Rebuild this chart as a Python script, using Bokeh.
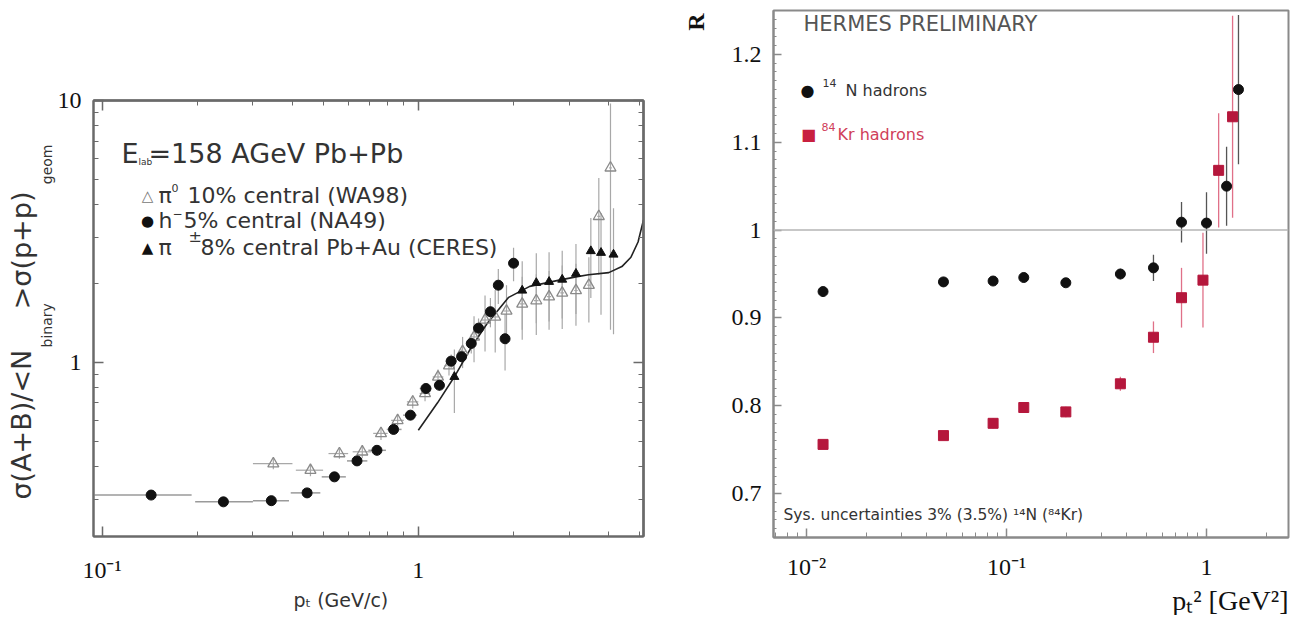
import math
from bokeh.plotting import figure
from bokeh.models import LogAxis, FixedTicker, Label, Span, ColumnDataSource, Title
from bokeh.layouts import row, column
from bokeh.embed import file_html
from bokeh.resources import INLINE

# ---------------- left panel data ----------------
na49_pt = [0.143, 0.242, 0.343, 0.445, 0.543, 0.640, 0.740, 0.835, 0.944, 1.057, 1.166,
           1.27, 1.37, 1.47, 1.55, 1.69, 1.79, 1.88, 2.00]
na49_ratio = [0.311, 0.293, 0.296, 0.317, 0.365, 0.420, 0.461, 0.554, 0.628, 0.794, 0.817,
              1.01, 1.05, 1.18, 1.35, 1.56, 1.97, 1.23, 2.39]
na49_err = [0.01, 0.01, 0.01, 0.01, 0.012, 0.015, 0.015, 0.02, 0.02, 0.03, 0.04,
            0.06, 0.07, 0.10, 0.12, 0.20, 0.30, 0.30, 0.35]
na49_pt_lo = [0.094, 0.197, 0.300, 0.395, 0.495, 0.595, 0.695, 0.795, 0.895, 1.01, 1.12,
              1.22, 1.32, 1.42, 1.50, 1.64, 1.74, 1.83, 1.95]
na49_pt_hi = [0.192, 0.300, 0.390, 0.490, 0.590, 0.690, 0.790, 0.885, 0.990, 1.10, 1.21,
              1.32, 1.42, 1.52, 1.60, 1.74, 1.84, 1.93, 2.05]

wa98_pt = [0.348, 0.456, 0.563, 0.665, 0.762, 0.86, 0.96, 1.05, 1.154, 1.25, 1.38, 1.50,
           1.625, 1.75, 1.90, 2.13, 2.36, 2.59, 2.85, 3.15, 3.46, 3.72, 4.05]
wa98_ratio = [0.410, 0.387, 0.448, 0.455, 0.535, 0.60, 0.706, 0.76, 0.879, 0.97, 1.10, 1.25,
              1.45, 1.49, 1.57, 1.67, 1.72, 1.78, 1.84, 1.88, 1.97, 3.61, 5.53]
wa98_err = [0.02, 0.02, 0.02, 0.025, 0.03, 0.035, 0.04, 0.05, 0.06, 0.08, 0.15, 0.25,
            0.35, 0.40, 0.40, 0.45, 0.45, 0.45, 0.50, 0.50, 0.55, 1.45, 4.2]
wa98_pt_lo = [0.30, 0.41, 0.52, 0.62, 0.72, 0.82, 0.92, 1.01, 1.11, 1.21, 1.34, 1.46,
              1.58, 1.71, 1.86, 2.09, 2.32, 2.55, 2.81, 3.11, 3.42, 3.68, 4.01]
wa98_pt_hi = [0.40, 0.50, 0.60, 0.71, 0.80, 0.90, 1.00, 1.09, 1.20, 1.29, 1.42, 1.54,
              1.67, 1.79, 1.94, 2.17, 2.40, 2.63, 2.89, 3.19, 3.50, 3.76, 4.09]

ceres_pt = [1.30, 2.13, 2.36, 2.59, 2.85, 3.15, 3.51, 3.78, 4.14]
ceres_ratio = [0.88, 1.88, 2.01, 2.03, 2.07, 2.18, 2.66, 2.62, 2.58]
ceres_err = [0.24, 0.55, 0.60, 0.60, 0.60, 0.65, 0.90, 1.10, 1.30]

curve_pt = [1.0, 1.15, 1.30, 1.47, 1.66, 1.93, 2.25, 2.79, 3.15, 3.45, 4.0, 4.4, 4.7, 4.95, 5.15]
curve_ratio = [0.55, 0.70, 0.88, 1.14, 1.42, 1.77, 1.95, 2.06, 2.12, 2.16, 2.20, 2.32, 2.52, 2.88, 3.5]

left_xticks = [0.1, 1.0]
left_xlabels = ["10⁻¹", "1"]
left_yticks = [1.0, 10.0]
left_ylabels = ["1", "10"]

# ---------------- right panel data ----------------
n_pt2 = [0.0121, 0.0484, 0.0857, 0.122, 0.198, 0.371, 0.543, 0.75, 1.0, 1.26, 1.445]
n_R = [0.930, 0.941, 0.942, 0.946, 0.940, 0.950, 0.957, 1.009, 1.008, 1.050, 1.160]
n_err = [0.004, 0.004, 0.004, 0.004, 0.004, 0.006, 0.015, 0.023, 0.035, 0.045, 0.085]

kr_pt2 = [0.0121, 0.0484, 0.0857, 0.122, 0.198, 0.371, 0.543, 0.75, 0.96, 1.15, 1.35]
kr_R = [0.756, 0.766, 0.780, 0.798, 0.793, 0.825, 0.878, 0.923, 0.943, 1.068, 1.129]
kr_err = [0.004, 0.004, 0.006, 0.006, 0.006, 0.008, 0.018, 0.034, 0.054, 0.065, 0.115]

right_xticks = [0.01, 0.1, 1.0]
right_xlabels = ["10⁻²", "10⁻¹", "1"]
right_yticks = [0.7, 0.8, 0.9, 1.0, 1.1, 1.2]
right_ylabels = ["0.7", "0.8", "0.9", "1", "1.1", "1.2"]

SANS = "DejaVu Sans"
SERIF = "Liberation Serif"
AX = "#6a6a6a"
EM = "\u2003"
EN = "\u2002"


def log_minors(lo, hi):
    out = []
    for e in range(-4, 2):
        for k in range(2, 10):
            v = k * 10.0 ** e
            if lo < v < hi:
                out.append(v)
    return out


def base_axis(ax, color=AX):
    ax.axis_line_color = color
    ax.axis_line_width = 2
    ax.major_tick_line_color = color
    ax.minor_tick_line_color = color
    ax.major_tick_line_width = 1.5
    ax.major_tick_out = 0
    ax.minor_tick_out = 0


def style_axis(ax, ticks, labels, minors, size, standoff, tick_in=10, minor_in=5, color=AX):
    ax.ticker = FixedTicker(ticks=ticks, minor_ticks=minors)
    ax.major_label_overrides = dict(zip(ticks, labels))
    base_axis(ax, color)
    ax.major_tick_in = tick_in
    ax.minor_tick_in = minor_in
    ax.major_label_text_font = SERIF
    ax.major_label_text_color = "#111"
    ax.major_label_text_font_size = f"{size}px"
    ax.major_label_standoff = standoff


def mirror_axes(p, side, majors, minors, tick_in=10, minor_in=5):
    # label-free mirrored tick marks (ticks only, no text)
    for pos, length in ((majors, tick_in), (minors, minor_in)):
        ax = LogAxis(ticker=FixedTicker(ticks=[], minor_ticks=pos))
        base_axis(ax)
        ax.minor_tick_in = length
        ax.minor_tick_line_width = 1.5 if length == tick_in else 1
        ax.major_label_standoff = 0
        p.add_layout(ax, side)


def lab(p, x, y, text, size, color="#333", font=SANS, align="left", baseline="middle",
        angle=0.0, style="normal"):
    p.add_layout(Label(x=x, y=y, x_units="screen", y_units="screen", text=text,
                       text_font=font, text_font_size=f"{size}px", text_color=color,
                       text_align=align, text_baseline=baseline, angle=angle,
                       text_font_style=style))


def title(p, side, text, size, align, offset, standoff, color="#333", font=SANS, style="normal"):
    p.add_layout(Title(text=text, align=align, offset=offset, standoff=standoff,
                       text_font=font, text_font_size=f"{size}px", text_color=color,
                       text_font_style=style), side)


# ================= LEFT FIGURE =================
p1 = figure(width=660, height=615, x_axis_type="log", y_axis_type="log",
            x_range=(0.094, 5.15), y_range=(0.216, 10.0),
            output_backend="svg", toolbar_location=None,
            min_border_left=93, min_border_right=17, min_border_top=100, min_border_bottom=79)
p1.xgrid.visible = False
p1.ygrid.visible = False
p1.outline_line_color = AX
p1.outline_line_width = 2

lx_minor = log_minors(0.094, 5.15)
ly_minor = log_minors(0.216, 10.0)
style_axis(p1.xaxis[0], left_xticks, left_xlabels, lx_minor, 24, 20)
style_axis(p1.yaxis[0], left_yticks, left_ylabels, ly_minor, 24, 12)
mirror_axes(p1, "above", left_xticks, lx_minor)
mirror_axes(p1, "right", left_yticks, ly_minor)

na = ColumnDataSource(dict(x=na49_pt, y=na49_ratio,
                           lo=[v - e for v, e in zip(na49_ratio, na49_err)],
                           hi=[v + e for v, e in zip(na49_ratio, na49_err)],
                           xl=na49_pt_lo, xh=na49_pt_hi))
wa = ColumnDataSource(dict(x=wa98_pt, y=wa98_ratio,
                           lo=[max(v - e, 0.22) for v, e in zip(wa98_ratio, wa98_err)],
                           hi=[v + e for v, e in zip(wa98_ratio, wa98_err)],
                           xl=wa98_pt_lo, xh=wa98_pt_hi))
ce = ColumnDataSource(dict(x=ceres_pt, y=ceres_ratio,
                           lo=[v - e for v, e in zip(ceres_ratio, ceres_err)],
                           hi=[v + e for v, e in zip(ceres_ratio, ceres_err)]))

BAR = "#a8a8a8"
p1.segment(x0="x", y0="lo", x1="x", y1="hi", source=wa, line_color=BAR, line_width=1.2)
p1.segment(x0="xl", y0="y", x1="xh", y1="y", source=wa, line_color=BAR, line_width=1.2)
p1.segment(x0="x", y0="lo", x1="x", y1="hi", source=ce, line_color=BAR, line_width=1.2)
p1.segment(x0="x", y0="lo", x1="x", y1="hi", source=na, line_color=BAR, line_width=1.2)
p1.segment(x0="xl", y0="y", x1="xh", y1="y", source=na, line_color="#9a9a9a", line_width=1.5)

p1.line(curve_pt, curve_ratio, line_color="#222", line_width=1.6)

p1.scatter("x", "y", source=wa, marker="triangle", size=11, fill_color=None,
           line_color="#8a8a8a", line_width=1.3)
p1.scatter("x", "y", source=na, marker="circle", size=10, fill_color="#111", line_color="#111")
p1.scatter("x", "y", source=ce, marker="triangle", size=9, fill_color="#111", line_color="#111")

# legend text inside the frame (frame-relative screen units)
lab(p1, 28, 383, "E", 27)
lab(p1, 45, 375, "lab", 9)
lab(p1, 55, 383, "=158 AGeV Pb+Pb", 27)

lab(p1, 54, 341, "△", 15, color="#777", align="center")
lab(p1, 65, 341, "π", 22)
lab(p1, 78, 349, "0", 11)
lab(p1, 94, 341, "10% central (WA98)", 22)

lab(p1, 54, 316, "●", 15, color="#111", align="center")
lab(p1, 65, 316, "h", 22)
lab(p1, 79, 323, "−", 12)
lab(p1, 90, 316, "5% central (NA49)", 22)

lab(p1, 54, 289, "▲", 15, color="#111", align="center")
lab(p1, 65, 289, "π", 22)
lab(p1, 95, 300, "±", 16)
lab(p1, 107, 289, "8% central Pb+Au (CERES)", 22)

# axis titles (as Title objects in the side panels)
title(p1, "below", "pₜ (GeV/c)", 19, "left", 200, 2)
title(p1, "left", "binary" + EM * 8 + EN + "geom", 14, "left", 189, 0)
title(p1, "left", "σ(A+B)/<N" + EM + EN + ">σ(p+p)", 27, "left", 37, 0)

# ================= RIGHT FIGURE =================
p2 = figure(width=646, height=615, x_axis_type="log",
            x_range=(0.00684, 2.57), y_range=(0.65, 1.25),
            output_backend="svg", toolbar_location=None,
            min_border_left=113, min_border_right=18, min_border_top=10, min_border_bottom=76)
p2.xgrid.visible = False
p2.ygrid.visible = False
p2.outline_line_color = "#8a8a8a"
p2.outline_line_width = 2

rx_minor = log_minors(0.00684, 2.57)
ry_minor = [round(0.66 + 0.01 * i, 2) for i in range(60) if round(0.66 + 0.01 * i, 2) < 1.25]
style_axis(p2.xaxis[0], right_xticks, right_xlabels, rx_minor, 24, 16, tick_in=9, minor_in=5,
           color="#8a8a8a")
style_axis(p2.yaxis[0], right_yticks, right_ylabels, ry_minor, 24, 12, tick_in=8, minor_in=3,
           color="#8a8a8a")

p2.add_layout(Span(location=1.0, dimension="width", line_color="#b5b5b5", line_width=1.5))

ns = ColumnDataSource(dict(x=n_pt2, y=n_R,
                           lo=[v - e for v, e in zip(n_R, n_err)],
                           hi=[v + e for v, e in zip(n_R, n_err)]))
ks = ColumnDataSource(dict(x=kr_pt2, y=kr_R,
                           lo=[v - e for v, e in zip(kr_R, kr_err)],
                           hi=[v + e for v, e in zip(kr_R, kr_err)]))
p2.segment(x0="x", y0="lo", x1="x", y1="hi", source=ks, line_color="#e07088", line_width=1.3)
p2.segment(x0="x", y0="lo", x1="x", y1="hi", source=ns, line_color="#555", line_width=1.3)
p2.scatter("x", "y", source=ks, marker="square", size=10, fill_color="#b5173c", line_color="#b5173c")
p2.scatter("x", "y", source=ns, marker="circle", size=10, fill_color="#111", line_color="#111")

lab(p2, 30, 514, "HERMES PRELIMINARY", 21, color="#555")
lab(p2, 34, 447, "●", 16, color="#111", align="center")
lab(p2, 49, 455, "14", 11, color="#333")
lab(p2, 72, 447, "N hadrons", 16, color="#333")
lab(p2, 35, 403, "■", 16, color="#c8203f", align="center")
lab(p2, 48, 411, "84", 11, color="#d0405a")
lab(p2, 64, 403, "Kr hadrons", 16, color="#d0405a")
lab(p2, 10, 23, "Sys. uncertainties 3% (3.5%) ¹⁴N (⁸⁴Kr)", 15.5, color="#333")

title(p2, "below", "pₜ² [GeV²]", 28, "right", 0, 0, color="#111", font=SERIF)
title(p2, "left", "R", 24, "right", 3, 39, color="#111", font=SERIF, style="bold")

for p in (p1, p2):
    if "frame_align" in p.properties():
        p.frame_align = False

layout = row(column(p1), column(p2))
open("out.html", "w").write(file_html(layout, INLINE))
